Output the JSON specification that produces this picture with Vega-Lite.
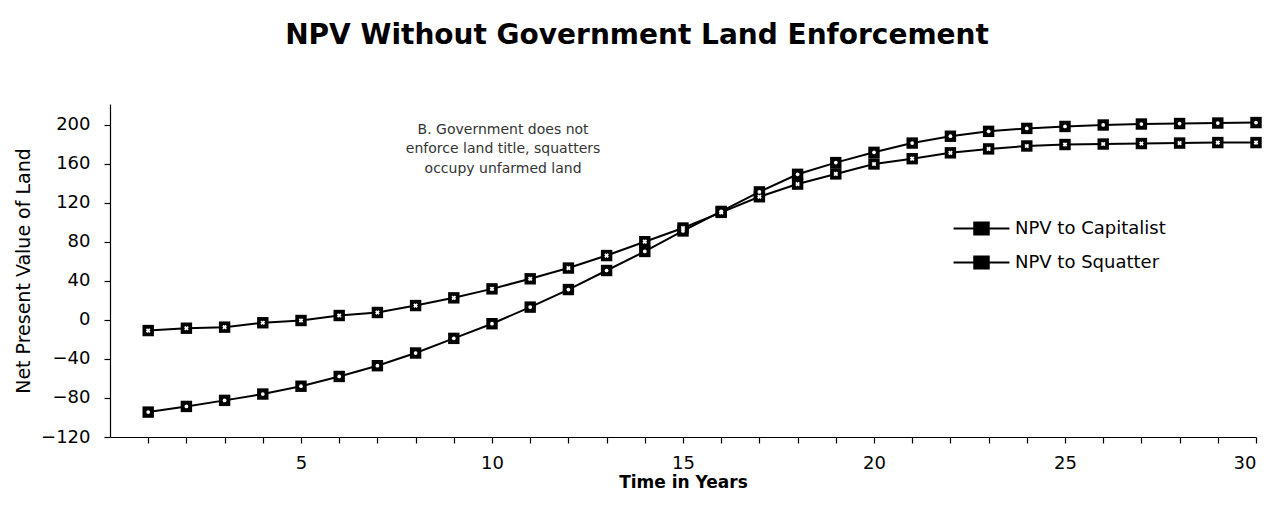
{
  "$schema": "https://vega.github.io/schema/vega-lite/v6.json",
  "autosize": {"type": "none"},
  "width": 1146,
  "height": 333,
  "padding": {"left": 110, "top": 104, "right": 21, "bottom": 78},
  "background": "white",
  "title": {
    "text": "NPV Without Government Land Enforcement",
    "font": "DejaVu Sans",
    "fontSize": 28,
    "fontWeight": "bold",
    "color": "black",
    "anchor": "middle",
    "dx": -46,
    "offset": 54
  },
  "config": {
    "view": {"stroke": null},
    "axis": {
      "grid": false,
      "labelOverlap": false,
      "domainColor": "black",
      "domainWidth": 1.2,
      "tickColor": "black",
      "tickWidth": 1.2,
      "tickSize": 6,
      "labelColor": "black",
      "labelFont": "DejaVu Sans",
      "labelFontSize": 18,
      "titleColor": "black",
      "titleFont": "DejaVu Sans"
    }
  },
  "datasets": {
    "npv": [
      {"year": 1, "series": "NPV to Capitalist", "npv": -94.5},
      {"year": 2, "series": "NPV to Capitalist", "npv": -88.7},
      {"year": 3, "series": "NPV to Capitalist", "npv": -82.5},
      {"year": 4, "series": "NPV to Capitalist", "npv": -76},
      {"year": 5, "series": "NPV to Capitalist", "npv": -68},
      {"year": 6, "series": "NPV to Capitalist", "npv": -58},
      {"year": 7, "series": "NPV to Capitalist", "npv": -47},
      {"year": 8, "series": "NPV to Capitalist", "npv": -34},
      {"year": 9, "series": "NPV to Capitalist", "npv": -19},
      {"year": 10, "series": "NPV to Capitalist", "npv": -4},
      {"year": 11, "series": "NPV to Capitalist", "npv": 13},
      {"year": 12, "series": "NPV to Capitalist", "npv": 31},
      {"year": 13, "series": "NPV to Capitalist", "npv": 50.5},
      {"year": 14, "series": "NPV to Capitalist", "npv": 70},
      {"year": 15, "series": "NPV to Capitalist", "npv": 91},
      {"year": 16, "series": "NPV to Capitalist", "npv": 111},
      {"year": 17, "series": "NPV to Capitalist", "npv": 131},
      {"year": 18, "series": "NPV to Capitalist", "npv": 149},
      {"year": 19, "series": "NPV to Capitalist", "npv": 161},
      {"year": 20, "series": "NPV to Capitalist", "npv": 171.5},
      {"year": 21, "series": "NPV to Capitalist", "npv": 181},
      {"year": 22, "series": "NPV to Capitalist", "npv": 188},
      {"year": 23, "series": "NPV to Capitalist", "npv": 193},
      {"year": 24, "series": "NPV to Capitalist", "npv": 196},
      {"year": 25, "series": "NPV to Capitalist", "npv": 198},
      {"year": 26, "series": "NPV to Capitalist", "npv": 199.5},
      {"year": 27, "series": "NPV to Capitalist", "npv": 200.5},
      {"year": 28, "series": "NPV to Capitalist", "npv": 201},
      {"year": 29, "series": "NPV to Capitalist", "npv": 201.5},
      {"year": 30, "series": "NPV to Capitalist", "npv": 202},
      {"year": 1, "series": "NPV to Squatter", "npv": -11},
      {"year": 2, "series": "NPV to Squatter", "npv": -8.6},
      {"year": 3, "series": "NPV to Squatter", "npv": -7.5},
      {"year": 4, "series": "NPV to Squatter", "npv": -3},
      {"year": 5, "series": "NPV to Squatter", "npv": -0.7},
      {"year": 6, "series": "NPV to Squatter", "npv": 4.4},
      {"year": 7, "series": "NPV to Squatter", "npv": 7.5},
      {"year": 8, "series": "NPV to Squatter", "npv": 14.6},
      {"year": 9, "series": "NPV to Squatter", "npv": 22.5},
      {"year": 10, "series": "NPV to Squatter", "npv": 31.7},
      {"year": 11, "series": "NPV to Squatter", "npv": 42},
      {"year": 12, "series": "NPV to Squatter", "npv": 53},
      {"year": 13, "series": "NPV to Squatter", "npv": 65.8},
      {"year": 14, "series": "NPV to Squatter", "npv": 80},
      {"year": 15, "series": "NPV to Squatter", "npv": 94},
      {"year": 16, "series": "NPV to Squatter", "npv": 110},
      {"year": 17, "series": "NPV to Squatter", "npv": 126},
      {"year": 18, "series": "NPV to Squatter", "npv": 139},
      {"year": 19, "series": "NPV to Squatter", "npv": 149.4},
      {"year": 20, "series": "NPV to Squatter", "npv": 159.6},
      {"year": 21, "series": "NPV to Squatter", "npv": 165},
      {"year": 22, "series": "NPV to Squatter", "npv": 171},
      {"year": 23, "series": "NPV to Squatter", "npv": 175},
      {"year": 24, "series": "NPV to Squatter", "npv": 178},
      {"year": 25, "series": "NPV to Squatter", "npv": 179.5},
      {"year": 26, "series": "NPV to Squatter", "npv": 180},
      {"year": 27, "series": "NPV to Squatter", "npv": 180.5},
      {"year": 28, "series": "NPV to Squatter", "npv": 181},
      {"year": 29, "series": "NPV to Squatter", "npv": 181.5},
      {"year": 30, "series": "NPV to Squatter", "npv": 181.5}
    ],
    "note": [{"label": "annotation"}]
  },
  "layer": [
    {
      "data": {"name": "npv"},
      "encoding": {
        "x": {
          "field": "year",
          "type": "quantitative",
          "scale": {"domain": [0, 30], "nice": false, "zero": false},
          "axis": {
            "values": [1,2,3,4,5,6,7,8,9,10,11,12,13,14,15,16,17,18,19,20,21,22,23,24,25,26,27,28,29,30],
            "tickCount": 40,
            "labelExpr": "datum.value % 5 === 0 ? datum.label : ''",
            "labelOverlap": false,
            "labelPadding": 11,
            "title": "Time in Years",
            "titleFontSize": 17,
            "titleFontWeight": "bold",
            "titlePadding": 2
          }
        },
        "y": {
          "field": "npv",
          "type": "quantitative",
          "scale": {"domain": [-120, 221], "nice": false, "zero": false},
          "axis": {
            "values": [-120, -80, -40, 0, 40, 80, 120, 160, 200],
            "tickCount": 12,
            "labelOverlap": false,
            "labelPadding": 14,
            "title": "Net Present Value of Land",
            "titleFontSize": 19,
            "titleFontWeight": "normal",
            "titlePadding": 7
          }
        }
      },
      "layer": [
        {
          "mark": {"type": "line", "strokeWidth": 2},
          "encoding": {
            "color": {
              "field": "series",
              "type": "nominal",
              "scale": {"range": ["black", "black"]},
              "legend": {
                "title": null,
                "orient": "none",
                "legendX": 857,
                "legendY": 110,
                "padding": 0,
                "symbolType": "M-2.15,0H2.15M-0.55,-0.45H0.55V0.45H-0.55Z",
                "symbolSize": 676,
                "symbolFillColor": "black",
                "symbolStrokeColor": "black",
                "symbolStrokeWidth": 2,
                "labelOffset": 19,
                "rowPadding": 9,
                "labelFont": "DejaVu Sans",
                "labelFontSize": 18,
                "labelColor": "black",
                "labelLimit": 300,
                "encode": {
                  "symbols": {
                    "update": {
                      "shape": {"value": "M-2.15,0H2.15M-0.55,-0.45H0.55V0.45H-0.55Z"},
                      "size": {"value": 676},
                      "fill": {"value": "black"},
                      "stroke": {"value": "black"},
                      "strokeWidth": {"value": 2.2},
                      "opacity": {"value": 1}
                    }
                  }
                }
              }
            }
          }
        },
        {
          "mark": {"type": "point", "shape": "square", "filled": true, "color": "black", "size": 130, "opacity": 1},
          "encoding": {"detail": {"field": "series", "type": "nominal"}}
        },
        {
          "transform": [{"filter": "datum.series === 'NPV to Capitalist'"}],
          "mark": {"type": "point", "shape": "circle", "filled": true, "color": "white", "size": 14, "opacity": 1}
        },
        {
          "transform": [{"filter": "datum.series === 'NPV to Squatter'"}],
          "mark": {"type": "point", "shape": "cross", "angle": 45, "filled": true, "color": "white", "size": 22, "opacity": 1}
        }
      ]
    },
    {
      "data": {"name": "note"},
      "mark": {
        "type": "text",
        "font": "DejaVu Sans",
        "fontSize": 14,
        "lineHeight": 19.5,
        "align": "center",
        "baseline": "middle",
        "color": "#333333",
        "text": ["B.  Government does not", "enforce land title, squatters", "occupy unfarmed land"]
      },
      "encoding": {
        "x": {"datum": 10.29, "type": "quantitative"},
        "y": {"datum": 194.6, "type": "quantitative"}
      }
    }
  ]
}
